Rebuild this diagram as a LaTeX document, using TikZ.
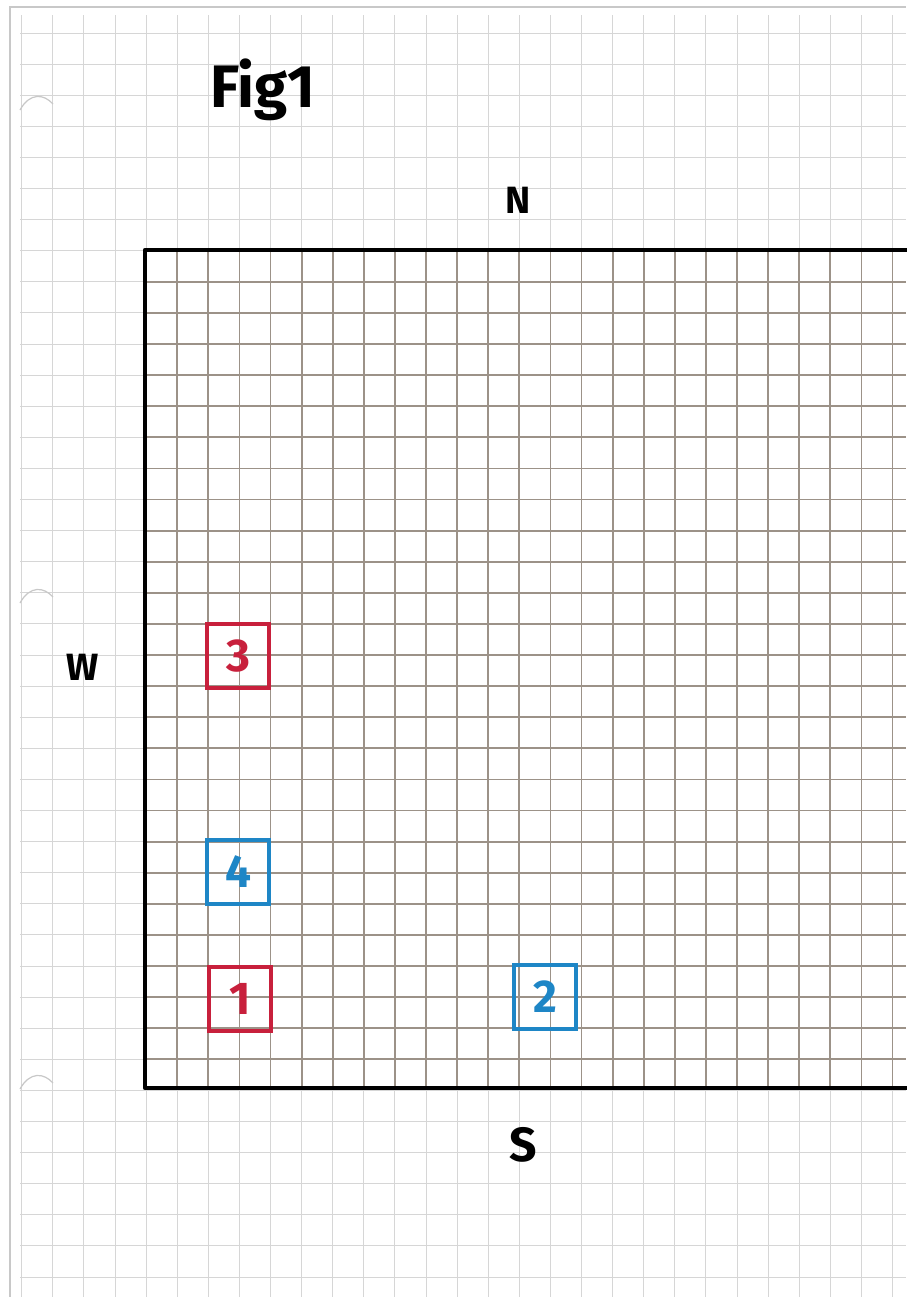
\documentclass[tikz,border=0pt]{standalone}
\usepackage{fontspec}
\setmainfont{Fira Sans}
\definecolor{paperline}{HTML}{D6D6D6}
\definecolor{traceline}{HTML}{9C9288}
\definecolor{penred}{HTML}{C8203C}
\definecolor{penblue}{HTML}{1E86C6}
\definecolor{pageedge}{HTML}{C8C8C8}
\tikzset{
  tile/.style={draw=#1, text=#1, line width=1.7pt, minimum width=31pt, minimum height=32pt,
    inner sep=0pt, font=\bfseries\fontsize{23}{23}\selectfont},
  compass/.style={font=\bfseries\fontsize{19}{19}\selectfont}
}
\begin{document}
\begin{tikzpicture}[x=0.5pt, y=-0.5pt]
  \useasboundingbox[fill=white] (0,0) rectangle (906,1297);
  \draw[pageedge, line width=1pt] (10,1297) -- (10,7) -- (906,7);
  % squared paper
  \foreach \i in {0,...,28}
    \draw[paperline, line width=0.5pt] ({21.7+31.1*\i},15) -- ({21.7+31.1*\i},1297);
  \foreach \j in {0,...,40}
    \draw[paperline, line width=0.5pt] (20,{33+31.1*\j}) -- (906,{33+31.1*\j});
  % punch holes
  \foreach \y in {110,603,1089}
    \draw[pageedge, line width=0.6pt] (20,\y) .. controls (30,{\y-18}) and (44,{\y-16}) .. (53,{\y-6});
  % traced field
  \begin{scope}
    \clip (145,250) rectangle (906,1088);
    \foreach \i in {5,...,28}
      \draw[traceline, line width=0.9pt] ({21.7+31.1*\i},250) -- ({21.7+31.1*\i},1088);
    \foreach \j in {8,...,33}
      \draw[traceline, line width=0.9pt] (145,{33+31.1*\j}) -- (906,{33+31.1*\j});
  \end{scope}
  \draw[line width=2.2pt, line cap=round, line join=round] (910,250) -- (145,250) -- (145,1088) -- (910,1088);
  \node[font=\bfseries\fontsize{30}{30}\selectfont, anchor=base west] (fig) at (203,107) {Fig1};
  \node[compass] (north) at (518,200) {N};
  \node[compass] (west) at (83,667) {W};
  \node[compass, font=\bfseries\fontsize{24}{24}\selectfont] (south) at (523,1145) {S};
  \node[tile=penred] (box3) at (238,656) {3};
  \node[tile=penblue] (box4) at (238,872) {4};
  \node[tile=penred] (box1) at (240,999) {1};
  \node[tile=penblue] (box2) at (545,997) {2};
\end{tikzpicture}
\end{document}
